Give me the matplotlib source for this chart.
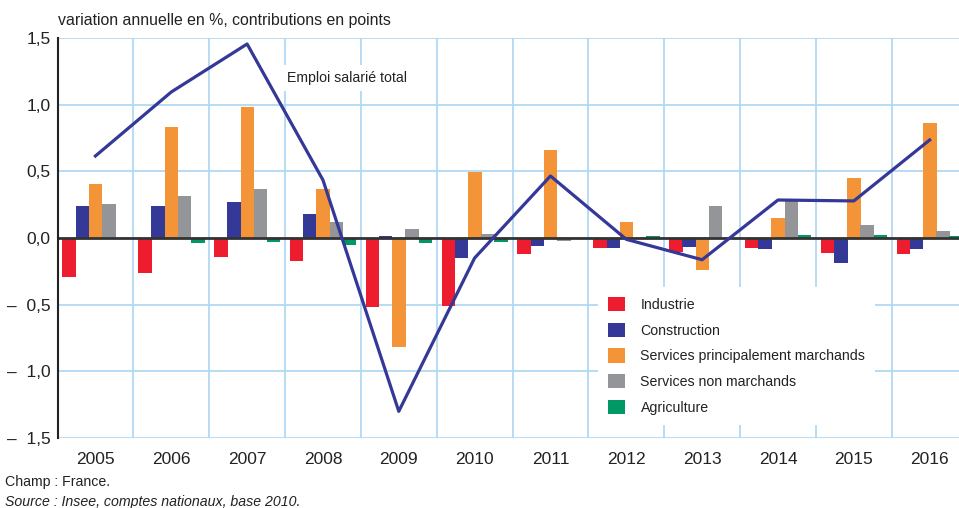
import numpy as np
import matplotlib
matplotlib.use("Agg")
from matplotlib import pyplot as plt

plt.rcParams['font.family'] = ['Liberation Sans Narrow', 'Liberation Sans', 'DejaVu Sans']

years = ['2005', '2006', '2007', '2008', '2009', '2010', '2011', '2012', '2013', '2014', '2015', '2016']
industrie = [-0.29, -0.26, -0.14, -0.17, -0.52, -0.51, -0.12, -0.075, -0.105, -0.075, -0.113, -0.12]
construction = [0.24, 0.24, 0.27, 0.18, 0.015, -0.15, -0.06, -0.075, -0.065, -0.083, -0.19, -0.083]
services_march = [0.405, 0.83, 0.98, 0.37, -0.815, 0.495, 0.66, 0.12, -0.24, 0.15, 0.45, 0.863]
services_non_march = [0.255, 0.315, 0.37, 0.12, 0.068, 0.028, -0.02, 0.0, 0.24, 0.285, 0.098, 0.053]
agriculture = [-0.01, -0.04, -0.03, -0.055, -0.04, -0.03, 0.0, 0.013, 0.0, 0.022, 0.022, 0.015]
emploi_total = [0.615, 1.095, 1.455, 0.435, -1.3, -0.15, 0.465, -0.01, -0.163, 0.285, 0.278, 0.735]

series = [
    ('Industrie', industrie, '#ed1c2e'),
    ('Construction', construction, '#343896'),
    ('Services principalement marchands', services_march, '#f39439'),
    ('Services non marchands', services_non_march, '#939598'),
    ('Agriculture', agriculture, '#009966'),
]

fig = plt.figure(figsize=(9.59, 5.08), dpi=100)
ax = fig.add_axes([57.5 / 959, 70 / 508, (959 - 57.5) / 959, 400 / 508])

x = np.arange(len(years))
width = 0.178
for i, (name, vals, col) in enumerate(series):
    ax.bar(x + 0.154 + i * 0.174, vals, width=width, color=col, label=name, zorder=2, linewidth=0)

ax.axhline(0, color='#333333', lw=2, zorder=3)
ax.plot(x + 0.5, emploi_total, color='#343896', lw=2.3, zorder=4)

ax.set_xlim(0, (959 - 57.5) / 75.84)
ax.set_ylim(-1.5, 1.5)
ax.set_xticks(np.arange(1, len(years)))
ax.set_xticklabels([])
ax.set_xticks(x + 0.5, minor=True)
ax.set_xticklabels(years, minor=True, fontsize=12.5, color='#222222')
yt = [-1.5, -1.0, -0.5, 0.0, 0.5, 1.0, 1.5]
ax.set_yticks(yt)
ax.set_yticklabels([('–  ' if v < 0 else '') + ('%.1f' % abs(v)).replace('.', ',') for v in yt],
                   fontsize=12.5, color='#222222')
ax.tick_params(axis='both', which='both', length=0)
ax.tick_params(axis='y', pad=5)
ax.tick_params(axis='x', which='minor', pad=10)
ax.grid(True, which='major', color='#abd6f2', lw=1.2, zorder=0)
ax.set_axisbelow(True)
for s in ['top', 'right', 'bottom']:
    ax.spines[s].set_visible(False)
ax.spines['left'].set_color('#222222')
ax.spines['left'].set_linewidth(1.5)
ax.spines['left'].set_zorder(5)

ax.text((287 - 57.5) / 75.84, 1.2, 'Emploi salarié total',
        fontsize=10.2, color='#222222', va='center', ha='left', zorder=5,
        bbox=dict(facecolor='white', edgecolor='none', pad=4))

leg = ax.legend(loc='upper left', bbox_to_anchor=((598 - 57.5) / (959 - 57.5), (438 - 287) / 400),
                frameon=True, fancybox=False, framealpha=1, edgecolor='none', fontsize=10.2,
                handlelength=1.2, handleheight=1.2, labelspacing=0.75, handletextpad=1.1,
                borderpad=0.7, borderaxespad=0)
for t in leg.get_texts():
    t.set_color('#222222')
leg.set_zorder(6)

fig.text(58 / 959, 1 - 20 / 508, 'variation annuelle en %, contributions en points',
         fontsize=11.4, color='#222222', va='center', ha='left')
fig.text(5 / 959, 1 - 482 / 508, 'Champ : France.', fontsize=10.2, color='#222222', va='center')
fig.text(5 / 959, 1 - 502 / 508, 'Source : Insee, comptes nationaux, base 2010.', fontsize=10.2,
         style='italic', color='#222222', va='center')

fig.savefig('out.png', dpi=100)
